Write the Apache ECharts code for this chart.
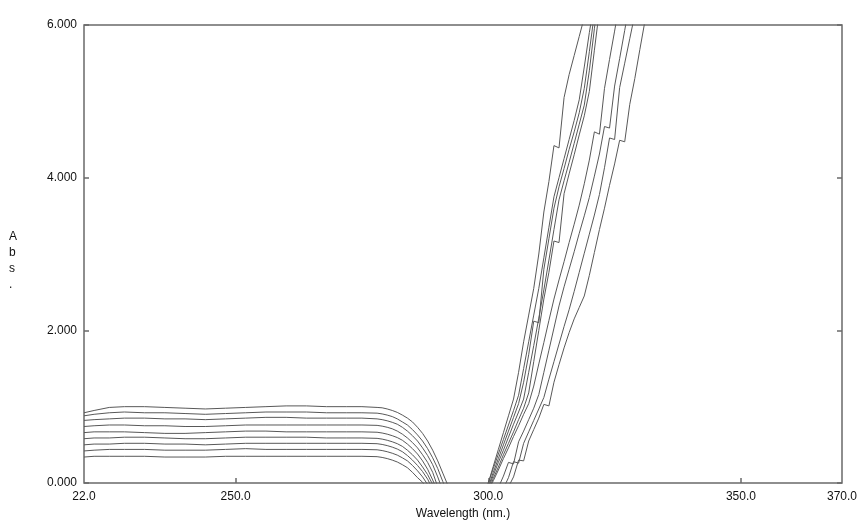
<!DOCTYPE html>
<html>
<head>
<meta charset="utf-8">
<script src="https://cdn.jsdelivr.net/npm/echarts@6/dist/echarts.min.js"></script>
<style>
html,body{margin:0;padding:0;background:#fff;}
#chart{width:865px;height:525px;}
</style>
</head>
<body>
<div id="chart"></div>
<script>
// Wavelength grid (nm)
const lowWaves = [220,222,225,228,232,236,240,244,248,252,256,260,264,268,272,275,
  278,279,280,281,282,283,284,285,286,287,288,289,290,291,292,293,295,297,299];
const riseWaves = [300,301,302,303,304,305,306,307,308,309,310,311,312,313,314,315,
  316,317,318,319,320,321,322,323,324,325,326,327,328,329,330,331];

// Absorbance: plateau + cut-off part (220–299 nm)
const low1 = [0.92,0.95,0.99,1.0,1.0,0.99,0.98,0.97,0.98,0.99,1.0,1.01,1.01,1.0,1.0,1.0,
  0.99,0.985,0.97,0.95,0.925,0.89,0.85,0.8,0.73,0.65,0.55,0.43,0.29,0.13,-0.03,-0.2,-0.4,-0.4,-0.2];
const low2 = [0.88,0.9,0.92,0.93,0.92,0.92,0.91,0.9,0.91,0.92,0.93,0.93,0.93,0.92,0.92,0.92,
  0.915,0.905,0.89,0.87,0.84,0.8,0.76,0.7,0.63,0.55,0.45,0.33,0.19,0.02,-0.15,-0.3,-0.4,-0.4,-0.2];
const low3 = [0.82,0.83,0.84,0.85,0.85,0.84,0.84,0.83,0.84,0.85,0.86,0.86,0.85,0.85,0.85,0.85,
  0.84,0.83,0.815,0.795,0.77,0.73,0.68,0.62,0.55,0.46,0.36,0.24,0.08,-0.1,-0.3,-0.4,-0.4,-0.4,-0.2];
const low4 = [0.74,0.75,0.76,0.76,0.75,0.75,0.74,0.74,0.75,0.76,0.76,0.76,0.76,0.76,0.76,0.76,
  0.755,0.745,0.73,0.71,0.68,0.64,0.59,0.53,0.46,0.37,0.27,0.14,-0.05,-0.2,-0.3,-0.4,-0.4,-0.4,-0.2];
const low5 = [0.66,0.67,0.67,0.67,0.66,0.65,0.65,0.66,0.67,0.68,0.68,0.67,0.67,0.67,0.67,0.67,
  0.665,0.655,0.64,0.62,0.595,0.56,0.51,0.45,0.38,0.29,0.18,0.04,-0.12,-0.25,-0.3,-0.4,-0.4,-0.4,-0.2];
const low6 = [0.58,0.59,0.59,0.6,0.6,0.59,0.58,0.58,0.59,0.6,0.6,0.6,0.6,0.59,0.59,0.59,
  0.585,0.575,0.56,0.54,0.515,0.48,0.43,0.37,0.3,0.21,0.11,-0.02,-0.15,-0.25,-0.3,-0.4,-0.4,-0.4,-0.2];
const low7 = [0.5,0.51,0.51,0.52,0.52,0.51,0.51,0.5,0.51,0.52,0.52,0.52,0.52,0.52,0.52,0.52,
  0.515,0.505,0.49,0.47,0.445,0.41,0.36,0.3,0.23,0.15,0.05,-0.08,-0.2,-0.25,-0.3,-0.4,-0.4,-0.4,-0.3];
const low8 = [0.42,0.43,0.44,0.44,0.44,0.43,0.43,0.43,0.44,0.45,0.44,0.44,0.44,0.44,0.44,0.44,
  0.435,0.425,0.41,0.39,0.365,0.33,0.29,0.23,0.16,0.08,-0.02,-0.12,-0.2,-0.25,-0.3,-0.4,-0.4,-0.4,-0.4];
const low9 = [0.34,0.35,0.35,0.35,0.35,0.34,0.34,0.34,0.35,0.35,0.35,0.35,0.35,0.35,0.35,0.35,
  0.345,0.335,0.32,0.3,0.275,0.24,0.2,0.14,0.07,0.01,-0.08,-0.15,-0.2,-0.25,-0.3,-0.4,-0.4,-0.4,-0.5];

// Absorbance: rising part (300 nm onward)
const rise1 = [0,0.22,0.44,0.66,0.88,1.1,1.45,1.85,2.2,2.55,3.0,3.55,3.95,4.42,4.39,5.05,5.35,5.6,5.85,6.1,6.35];
const rise2 = [0,0.19,0.38,0.57,0.76,0.95,1.15,1.5,1.85,2.2,2.55,2.95,3.35,3.75,4.0,4.25,4.5,4.75,5.02,5.45,5.9,6.3];
const rise3 = [-0.05,0.14,0.32,0.5,0.68,0.86,1.04,1.32,1.68,2.12,2.1,2.8,3.2,3.6,3.88,4.12,4.37,4.6,4.85,5.17,5.65,6.15];
const rise4 = [-0.07,0.1,0.27,0.43,0.6,0.77,0.93,1.1,1.45,1.8,2.16,2.53,2.92,3.32,3.71,3.96,4.2,4.45,4.7,4.95,5.4,5.95,6.5];
const rise5 = [-0.1,0.06,0.21,0.37,0.52,0.67,0.83,0.98,1.18,1.59,2.0,2.41,2.76,3.17,3.15,3.79,4.05,4.3,4.56,4.81,5.13,5.67,6.2];
const rise6 = [-0.1,0.03,0.17,0.32,0.46,0.61,0.75,0.9,1.04,1.27,1.56,1.84,2.13,2.41,2.66,2.9,3.15,3.39,3.64,3.92,4.23,4.6,4.57,5.17,5.55,5.92,6.3];
const rise7 = [-0.3,-0.2,-0.06,0.09,0.27,0.25,0.54,0.68,0.83,0.98,1.16,1.45,1.74,2.03,2.32,2.57,2.8,3.03,3.27,3.5,3.74,4.02,4.31,4.67,4.65,5.2,5.56,5.93,6.3];
const rise8 = [-0.4,-0.3,-0.2,-0.07,0.07,0.28,0.26,0.52,0.67,0.82,0.97,1.12,1.36,1.59,1.82,2.05,2.27,2.51,2.76,3.01,3.26,3.51,3.78,4.13,4.52,4.5,5.18,5.5,5.82,6.14];
const rise9 = [-0.5,-0.4,-0.3,-0.2,-0.05,0.08,0.3,0.29,0.55,0.7,0.85,1.03,1.01,1.32,1.55,1.77,1.97,2.15,2.3,2.45,2.72,3.02,3.32,3.6,3.9,4.18,4.49,4.47,4.96,5.3,5.68,6.05];

const lowSets = [low1,low2,low3,low4,low5,low6,low7,low8,low9];
const riseSets = [rise1,rise2,rise3,rise4,rise5,rise6,rise7,rise8,rise9];

const xLabelValues = [220, 250, 300, 350, 370];
const xTickValues = [250, 300, 350];
const xLabelText = {220:'22.0', 250:'250.0', 300:'300.0', 350:'350.0', 370:'370.0'};

const FONT = '"Liberation Sans", Arial, sans-serif';

function buildData(low, rise) {
  const d = [];
  low.forEach((v, i) => d.push([lowWaves[i], v]));
  rise.forEach((v, i) => d.push([riseWaves[i], v]));
  return d;
}

const series = lowSets.map((low, i) => ({
  type: 'line',
  data: buildData(low, riseSets[i]),
  showSymbol: false,
  symbol: 'none',
  clip: true,
  lineStyle: { color: '#585858', width: 1 },
  silent: true,
  animation: false
}));

const chart = echarts.init(document.getElementById('chart'), null, { renderer: 'canvas' });
chart.setOption({
  animation: false,
  backgroundColor: '#ffffff',
  grid: { left: 84, right: 23, top: 25, bottom: 40, show: true, borderColor: '#6a6a6a', borderWidth: 1.5, containLabel: false },
  xAxis: {
    type: 'value', min: 220, max: 370,
    axisLine: { show: false },
    splitLine: { show: false },
    axisTick: { show: true, inside: true, length: 5, customValues: xTickValues, lineStyle: { color: '#6a6a6a', width: 1.5 } },
    axisLabel: {
      customValues: xLabelValues, showMinLabel: true, showMaxLabel: true,
      margin: 8, color: '#111', fontSize: 12, fontFamily: FONT,
      formatter: v => xLabelText[v] || v.toFixed(1)
    },
    name: 'Wavelength (nm.)', nameLocation: 'middle', nameGap: 25,
    nameTextStyle: { color: '#111', fontSize: 12, fontFamily: FONT }
  },
  yAxis: [{
    type: 'value', min: 0, max: 6, interval: 2,
    axisLine: { show: false },
    splitLine: { show: false },
    axisTick: { show: true, inside: true, length: 5, lineStyle: { color: '#6a6a6a', width: 1.5 } },
    axisLabel: { margin: 7, color: '#111', fontSize: 12, fontFamily: FONT, formatter: v => v.toFixed(3) }
  }, {
    type: 'value', min: 0, max: 6, interval: 2, position: 'right',
    axisLine: { show: false },
    splitLine: { show: false },
    axisTick: { show: true, inside: true, length: 5, lineStyle: { color: '#6a6a6a', width: 1.5 } },
    axisLabel: { show: false }
  }],
  graphic: [{
    type: 'text', left: 9, top: 229,
    style: { text: 'A\nb\ns\n.', fontSize: 12, lineHeight: 16, fontFamily: FONT, fill: '#111', align: 'center' }
  }],
  series: series
});
</script>
</body>
</html>
